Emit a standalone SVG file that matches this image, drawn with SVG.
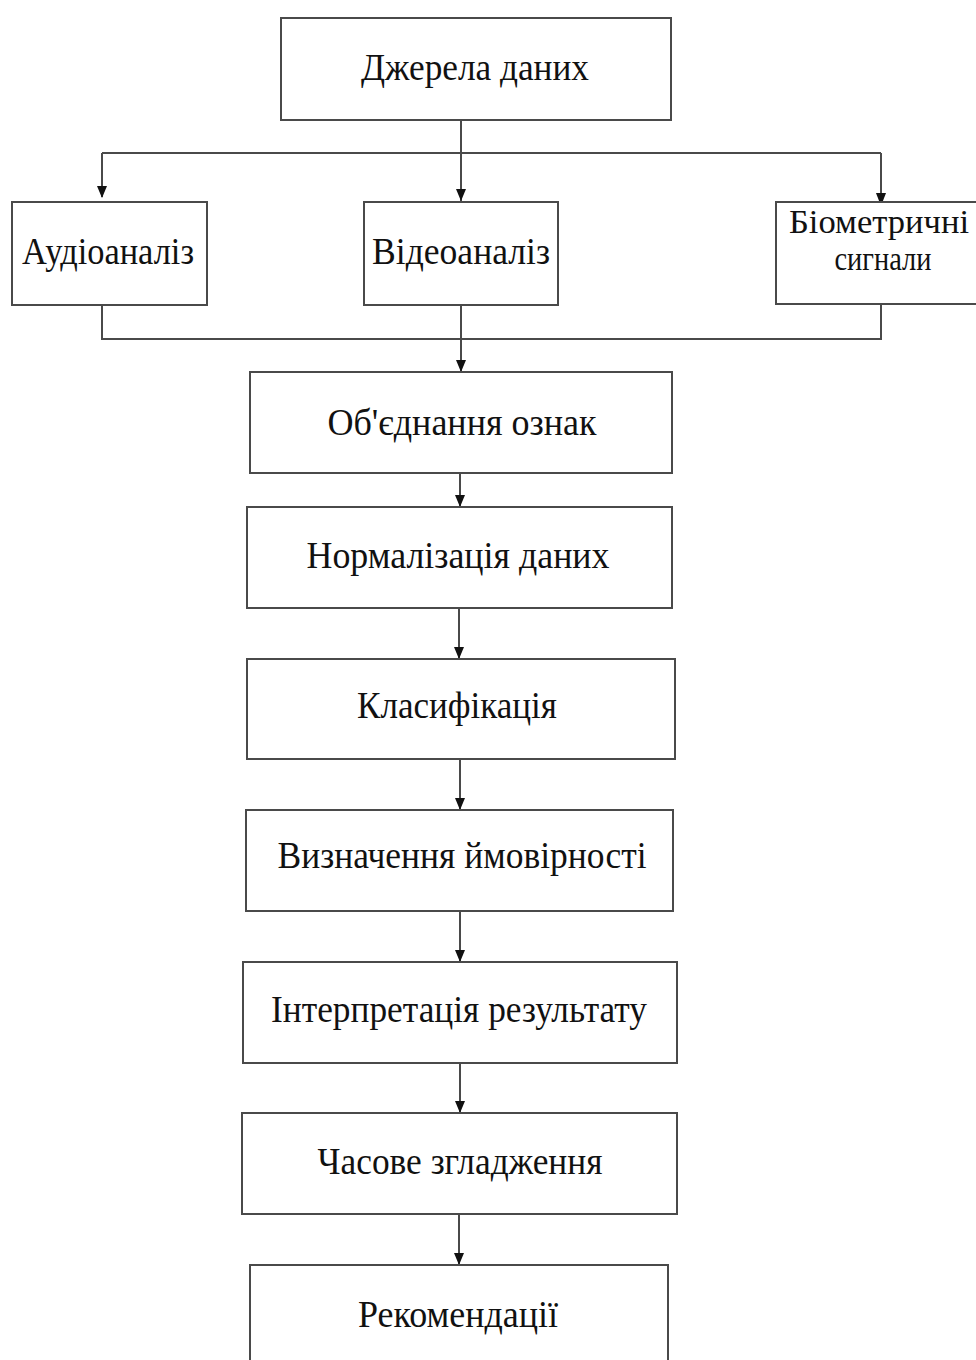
<svg xmlns="http://www.w3.org/2000/svg" width="976" height="1360" viewBox="0 0 976 1360">
<defs>
<style>
.box{fill:#ffffff;stroke:#4a4a4a;stroke-width:2}
.lbl{font-family:"Liberation Serif","Times New Roman",serif;font-size:38px;fill:#111111}
.sm{font-size:34px}
.ln{fill:none;stroke:#4a4a4a;stroke-width:2}
</style>
</defs>
<rect width="976" height="1360" fill="#ffffff"/>
<g id="connectors">
<path class="ln" d="M461,120 V201"/>
<path class="ln" d="M102,153 H881"/>
<path class="ln" d="M102,153 V197"/>
<path class="ln" d="M881,153 V206"/>
<path class="ln" d="M102,305 V339 H881 V304"/>
<path class="ln" d="M461,305 V372"/>
<path class="ln" d="M460,473 V507"/>
<path class="ln" d="M459,608 V659"/>
<path class="ln" d="M460,759 V810"/>
<path class="ln" d="M460,911 V962"/>
<path class="ln" d="M460,1063 V1113"/>
<path class="ln" d="M459,1214 V1265"/>
<g fill="#111111">
<path d="M97,186 L107,186 L102,198 Z"/>
<path d="M456,189 L466,189 L461,201 Z"/>
<path d="M876,193 L886,193 L881,206 Z"/>
<path d="M456,360 L466,360 L461,372 Z"/>
<path d="M455,495 L465,495 L460,507 Z"/>
<path d="M454,647 L464,647 L459,659 Z"/>
<path d="M455,798 L465,798 L460,810 Z"/>
<path d="M455,950 L465,950 L460,962 Z"/>
<path d="M455,1101 L465,1101 L460,1113 Z"/>
<path d="M454,1253 L464,1253 L459,1265 Z"/>
</g>
</g>
<g id="n-sources"><rect class="box" x="281" y="18" width="390" height="102"/><text class="lbl" x="475" y="80" text-anchor="middle" textLength="228" lengthAdjust="spacingAndGlyphs">Джерела даних</text></g>
<g id="n-audio"><rect class="box" x="12" y="202" width="195" height="103"/><text class="lbl" x="108" y="264" text-anchor="middle" textLength="172" lengthAdjust="spacingAndGlyphs">Аудіоаналіз</text></g>
<g id="n-video"><rect class="box" x="364" y="202" width="194" height="103"/><text class="lbl" x="461" y="264" text-anchor="middle" textLength="178" lengthAdjust="spacingAndGlyphs">Відеоаналіз</text></g>
<g id="n-bio"><rect class="box" x="776" y="202" width="210" height="102"/><text class="lbl sm" x="879" y="233" text-anchor="middle" textLength="180" lengthAdjust="spacingAndGlyphs">Біометричні</text><text class="lbl sm" x="883" y="270" text-anchor="middle" textLength="97" lengthAdjust="spacingAndGlyphs">сигнали</text></g>
<g id="n-fusion"><rect class="box" x="250" y="372" width="422" height="101"/><text class="lbl" x="462" y="435" text-anchor="middle" textLength="269" lengthAdjust="spacingAndGlyphs">Об'єднання ознак</text></g>
<g id="n-norm"><rect class="box" x="247" y="507" width="425" height="101"/><text class="lbl" x="458" y="568" text-anchor="middle" textLength="303" lengthAdjust="spacingAndGlyphs">Нормалізація даних</text></g>
<g id="n-class"><rect class="box" x="247" y="659" width="428" height="100"/><text class="lbl" x="457" y="718" text-anchor="middle" textLength="200" lengthAdjust="spacingAndGlyphs">Класифікація</text></g>
<g id="n-prob"><rect class="box" x="246" y="810" width="427" height="101"/><text class="lbl" x="462" y="868" text-anchor="middle" textLength="369" lengthAdjust="spacingAndGlyphs">Визначення ймовірності</text></g>
<g id="n-interp"><rect class="box" x="243" y="962" width="434" height="101"/><text class="lbl" x="459" y="1022" text-anchor="middle" textLength="376" lengthAdjust="spacingAndGlyphs">Інтерпретація результату</text></g>
<g id="n-smooth"><rect class="box" x="242" y="1113" width="435" height="101"/><text class="lbl" x="460" y="1174" text-anchor="middle" textLength="285" lengthAdjust="spacingAndGlyphs">Часове згладження</text></g>
<g id="n-rec"><rect class="box" x="250" y="1265" width="418" height="110"/><text class="lbl" x="458" y="1327" text-anchor="middle" textLength="200" lengthAdjust="spacingAndGlyphs">Рекомендації</text></g>
</svg>
